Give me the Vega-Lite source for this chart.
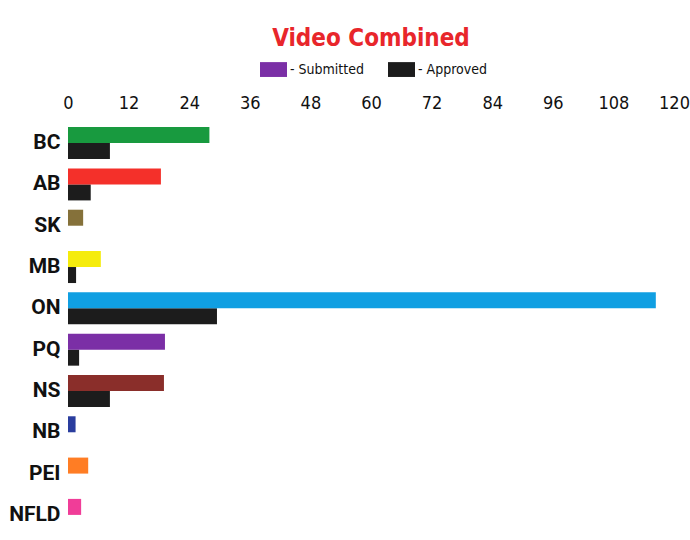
{
  "$schema": "https://vega.github.io/schema/vega-lite/v6.json",
  "width": 606,
  "height": 422,
  "autosize": "none",
  "padding": {"left": 68, "top": 118, "right": 16, "bottom": 0},
  "background": "white",
  "title": {
    "text": "Video Combined",
    "color": "#e8262b",
    "font": "DejaVu Sans Condensed",
    "fontSize": 24,
    "fontWeight": "bold",
    "anchor": "middle",
    "offset": 5
  },
  "data": {
    "values": [
      {"province": "BC", "series": "Submitted", "value": 28},
      {"province": "BC", "series": "Approved", "value": 8.3},
      {"province": "AB", "series": "Submitted", "value": 18.4},
      {"province": "AB", "series": "Approved", "value": 4.5},
      {"province": "SK", "series": "Submitted", "value": 3},
      {"province": "MB", "series": "Submitted", "value": 6.5},
      {"province": "MB", "series": "Approved", "value": 1.6},
      {"province": "ON", "series": "Submitted", "value": 116.4},
      {"province": "ON", "series": "Approved", "value": 29.5},
      {"province": "PQ", "series": "Submitted", "value": 19.2},
      {"province": "PQ", "series": "Approved", "value": 2.2},
      {"province": "NS", "series": "Submitted", "value": 19},
      {"province": "NS", "series": "Approved", "value": 8.3},
      {"province": "NB", "series": "Submitted", "value": 1.5},
      {"province": "PEI", "series": "Submitted", "value": 4},
      {"province": "NFLD", "series": "Submitted", "value": 2.6}
    ]
  },
  "encoding": {
    "y": {
      "field": "province",
      "type": "nominal",
      "sort": ["BC", "AB", "SK", "MB", "ON", "PQ", "NS", "NB", "PEI", "NFLD"],
      "scale": {"paddingInner": 0.225, "paddingOuter": 0.22},
      "axis": {
        "title": null,
        "ticks": false,
        "domain": false,
        "labelFont": "Roboto",
        "labelFontSize": 21,
        "labelFontWeight": "bold",
        "labelColor": "#111111",
        "labelPadding": 8
      }
    },
    "x": {
      "field": "value",
      "type": "quantitative",
      "scale": {"domain": [0, 120], "nice": false},
      "axis": {
        "orient": "top",
        "title": null,
        "values": [0, 12, 24, 36, 48, 60, 72, 84, 96, 108, 120],
        "grid": false,
        "ticks": false,
        "domain": false,
        "labelFont": "DejaVu Sans Condensed",
        "labelFontSize": 18,
        "labelColor": "#111111",
        "labelPadding": 6,
        "labelFlush": false
      }
    },
    "yOffset": {
      "field": "series",
      "type": "nominal",
      "sort": ["Submitted", "Approved"],
      "scale": {"domain": ["Submitted", "Approved"], "paddingInner": 0, "paddingOuter": 0}
    }
  },
  "layer": [
    {
      "transform": [{"filter": "datum.series === 'Approved'"}],
      "mark": {"type": "bar"},
      "encoding": {
        "color": {
          "field": "series",
          "type": "nominal",
          "scale": {"domain": ["Submitted", "Approved"], "range": ["#7b2fa6", "#1c1c1c"]},
          "legend": {
            "title": null,
            "orient": "none",
            "direction": "horizontal",
            "legendX": 192,
            "legendY": -62,
            "padding": 0,
            "symbolType": "M-1,-0.55L1,-0.55L1,0.55L-1,0.55Z",
            "symbolSize": 729,
            "symbolStrokeWidth": 0,
            "symbolOpacity": 1,
            "labelExpr": "'- ' + datum.label",
            "labelFont": "DejaVu Sans Condensed",
            "labelFontSize": 14,
            "labelColor": "#111111",
            "labelOffset": 3,
            "columnPadding": 24
          }
        }
      }
    },
    {
      "transform": [{"filter": "datum.series === 'Submitted'"}],
      "mark": {"type": "bar"},
      "encoding": {
        "fill": {
          "field": "province",
          "type": "nominal",
          "scale": {
            "domain": ["BC", "AB", "SK", "MB", "ON", "PQ", "NS", "NB", "PEI", "NFLD"],
            "range": ["#189a3f", "#f4302a", "#85713a", "#f5ec0c", "#109fe2", "#7b2fa6", "#8a2e2a", "#2a3d9e", "#ff7d24", "#f03d98"]
          },
          "legend": null
        }
      }
    }
  ],
  "resolve": {"scale": {"color": "independent", "fill": "independent"}},
  "config": {"view": {"stroke": null}}
}
